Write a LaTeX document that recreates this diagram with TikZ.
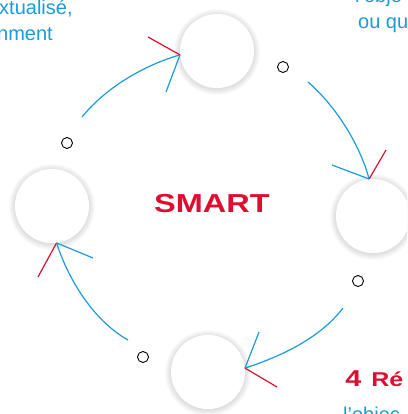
\documentclass[tikz,border=0pt]{standalone}
\usepackage{fontspec}
\setmainfont{Liberation Sans}
\definecolor{smblue}{RGB}{27,155,215}
\definecolor{smred}{RGB}{221,14,48}
\begin{document}
\begin{tikzpicture}[x=1pt,y=-1pt,
  stage/.style={circle, fill=white, minimum size=74pt, inner sep=0pt},
  dot/.style={circle, draw=black, line width=0.9pt, minimum size=11pt, inner sep=0pt},
  cyclearc/.style={draw=smblue, line width=1.2pt},
  bluebarb/.style={draw=smblue, line width=1.2pt},
  redbarb/.style={draw=smred, line width=1.2pt},
  bluetext/.style={text=smblue, font=\fontsize{20}{24}\selectfont, anchor=base west, inner sep=0pt},
  redtext/.style={text=smred, anchor=base west, inner sep=0pt, xscale=1.25},
]
\useasboundingbox (0,0) rectangle (407,414);
\clip (0,0) rectangle (407,414);

% soft halo under the four stage discs
\foreach \cx/\cy in {217/51, 373/216, 208/372, 52/206}
  \foreach \k in {1,...,6}
    \fill[black, opacity=0.02] (\cx,\cy+1) circle (37+\k);

% the four stages
\node[stage] (t) at (217,51) {};
\node[stage] (r) at (373,216) {};
\node[stage] (b) at (208,372) {};
\node[stage] (l) at (52,206) {};

% small open markers between the stages
\node[dot] (d1) at (283,67) {};
\node[dot] (d2) at (358,281) {};
\node[dot] (d3) at (143,357) {};
\node[dot] (d4) at (67,143) {};

% arrow tips on the discs
\coordinate (tt) at (t.186);
\coordinate (rt) at (r.96);
\coordinate (bt) at (b.6);
\coordinate (lt) at (l.277);

% start points of the cycle arcs
\coordinate (s1) at (82,117);
\coordinate (s2) at (308,82);
\coordinate (s3) at (343,308);
\coordinate (s4) at (128,340);

% free ends of the barbs
\coordinate (t1) at (148,37);
\coordinate (t2) at (166,92);
\coordinate (r1) at (386,150);
\coordinate (r2) at (332,165);
\coordinate (b1) at (277,387);
\coordinate (b2) at (259,332);
\coordinate (l1) at (38,277);
\coordinate (l2) at (93,258);

% cycle arcs
\draw[cyclearc] (s1) .. controls (108,85) and (148,64) .. (tt);
\draw[cyclearc] (s2) .. controls (338,108) and (361,148) .. (rt);
\draw[cyclearc] (s3) .. controls (320,338) and (282,356) .. (bt);
\draw[cyclearc] (s4) .. controls (96,322) and (70,284) .. (lt);

% barbs
\draw[redbarb] (tt) -- (t1);  \draw[bluebarb] (tt) -- (t2);
\draw[redbarb] (rt) -- (r1);  \draw[bluebarb] (rt) -- (r2);
\draw[redbarb] (bt) -- (b1);  \draw[bluebarb] (bt) -- (b2);
\draw[redbarb] (lt) -- (l1);  \draw[bluebarb] (lt) -- (l2);

% title
\node[text=smred, font=\fontsize{26}{26}\selectfont\bfseries, xscale=1.25, anchor=base, inner sep=0pt] (title) at (212,212) {SMART};

% surrounding captions
\node[bluetext] (c1) at (-1,15) {xtualisé,};
\node[bluetext] (c2) at (-3,41) {nment};
\node[bluetext] (c3) at (355,3) {l'obje};
\node[bluetext] (c4) at (358,29) {ou qu};
\node[redtext, font=\fontsize{23}{23}\selectfont\bfseries] (n4) at (345,386) {4};
\node[redtext, font=\fontsize{20}{20}\selectfont\bfseries] (h4) at (371,386) {Ré};
\node[bluetext] (c5) at (343,421) {l'objec};
\end{tikzpicture}
\end{document}
